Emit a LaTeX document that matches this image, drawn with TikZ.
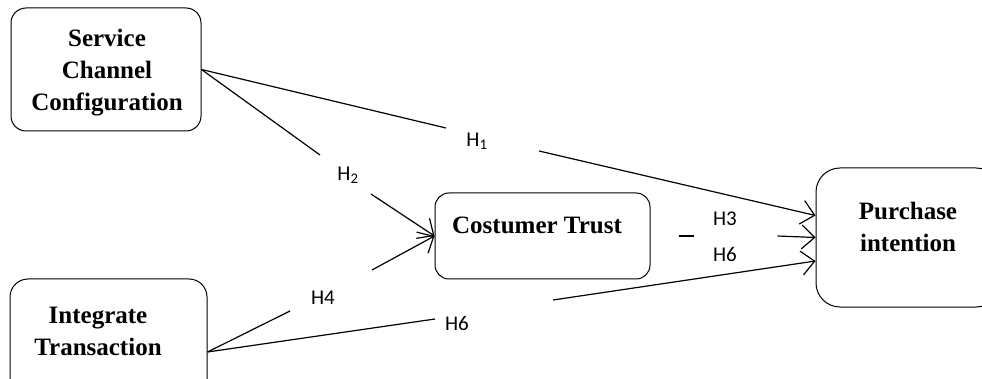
\documentclass[tikz,border=0pt]{standalone}
\usepackage{fontspec}
\setmainfont{Liberation Serif}
\newfontfamily\hypfont{Carlito}
\usetikzlibrary{calc}
\usetikzlibrary{arrows.meta}
\tikzstyle{construct} = [draw, line width=1pt, rectangle, inner sep=0pt]
\tikzstyle{title} = [align=center, font=\fontsize{25}{32}\selectfont\bfseries]
\tikzstyle{hyp} = [inner sep=0pt, font=\hypfont\fontsize{21}{25}\selectfont]

\begin{document}
\begin{tikzpicture}[x=1pt, y=-1pt, line width=1.2pt, >={Straight Barb[length=13pt,width=24pt]}]
  \useasboundingbox (0,0) rectangle (982,379);
  \clip (0,0) rectangle (982,379);

  \node[construct, rounded corners=15pt, minimum width=190pt, minimum height=123pt] (scc) at (106,69.5) {};
  \node[construct, rounded corners=14pt, minimum width=215pt, minimum height=86pt] (ct) at (542.5,236) {};
  \node[construct, rounded corners=24pt, minimum width=184pt, minimum height=139pt] (pi) at (908,237.5) {};
  \node[construct, rounded corners=18pt, minimum width=197pt, minimum height=146pt] (it) at (108.5,352) {};

  \node[title] (scctext) at (107,73) {Service\\Channel\\Configuration};
  \node[title] (cttext) at (537,225) {Costumer Trust};
  \node[title] (pitext) at (908,227) {Purchase\\intention};
  \node[title] (ittext) at (98,331) {Integrate\\Transaction};

  % gaps left for the labels
  \coordinate (h1a) at (446,128);
  \coordinate (h1b) at (539,151);
  \coordinate (h2a) at (320,155);
  \coordinate (h2b) at (371,194);
  \coordinate (h4a) at (290,311);
  \coordinate (h4b) at (372,270);
  \coordinate (h6a) at (435,319);
  \coordinate (h6b) at (553,300);
  \coordinate (h3a) at ($(ct.east)+(28,0)$);
  \coordinate (h3b) at ($(ct.east)+(43,0)$);
  \coordinate (h3c) at ($(ct.east)+(127,0)$);

  \node[hyp] (l1) at (477,141) {H\textsubscript{1}};
  \node[hyp] (l2) at (348,175) {H\textsubscript{2}};
  \node[hyp] (l4) at (323,298) {H4};
  \node[hyp] (l6) at (457,323) {H6};
  \node[hyp] (l3) at (725,219) {H3};
  \node[hyp] (l6b) at (725,254) {H6};

  \draw (scc.east) -- (h1a);
  \draw[->] (h1b) -- ($(pi.west)+(0,-22)$);
  \draw (scc.east) -- (h2a);
  \draw[->] (h2b) -- (ct.west);
  \draw (it.east) -- (h4a);
  \draw[->] (h4b) -- (ct.west);
  \draw (it.east) -- (h6a);
  \draw[->] (h6b) -- ($(pi.west)+(0,23.5)$);
  \draw (h3a) -- (h3b);
  \draw[->] (h3c) -- (pi.west);
\end{tikzpicture}
\end{document}
